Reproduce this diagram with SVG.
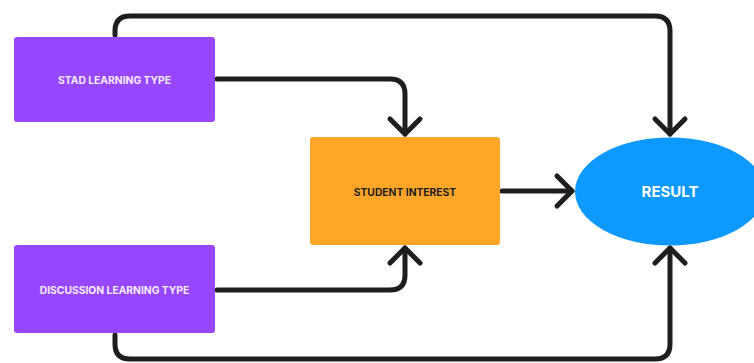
<svg xmlns="http://www.w3.org/2000/svg" width="754" height="363" viewBox="0 0 754 363">
<style>
.c{fill:none;stroke:#1e1e1e;stroke-width:5;stroke-linecap:round;stroke-linejoin:round}
.t{font-family:Inter,"Liberation Sans",sans-serif;font-weight:700;text-anchor:middle;dominant-baseline:central}
</style>
<rect width="754" height="363" fill="#fff"/>
<g id="connectors">
<path class="c" d="M115 35 V31 Q115 16 130 16 H655 Q670 16 670 31 V134"/>
<path class="c" d="M655 119 L670 134 L685 119"/>
<path class="c" d="M217 79 H390 Q405 79 405 94 V134"/>
<path class="c" d="M390 119 L405 134 L420 119"/>
<path class="c" d="M217 290 H390 Q405 290 405 275 V248"/>
<path class="c" d="M390 263 L405 248 L420 263"/>
<path class="c" d="M502 191 H572"/>
<path class="c" d="M557 176 L572 191 L557 206"/>
<path class="c" d="M115 335 V344 Q115 359 130 359 H655 Q670 359 670 344 V248"/>
<path class="c" d="M655 263 L670 248 L685 263"/>
</g>
<g id="stad">
<rect x="14" y="37" width="201" height="85" rx="3" fill="#9747ff"/>
<text class="t" x="114.5" y="80" font-size="10.3" fill="#f5ebff">STAD LEARNING TYPE</text>
</g>
<g id="discussion">
<rect x="14" y="245" width="201" height="88" rx="3" fill="#9747ff"/>
<text class="t" x="114.5" y="290" font-size="10.3" fill="#f5ebff">DISCUSSION LEARNING TYPE</text>
</g>
<g id="interest">
<rect x="310" y="137" width="190" height="108" rx="3" fill="#ffa629"/>
<text class="t" x="405" y="191.5" font-size="10.3" fill="#1e1e1e">STUDENT INTEREST</text>
</g>
<g id="result">
<ellipse cx="670" cy="191.5" rx="95" ry="54" fill="#0d99ff"/>
<text class="t" x="670" y="191.5" font-size="15" fill="#fff">RESULT</text>
</g>
</svg>
